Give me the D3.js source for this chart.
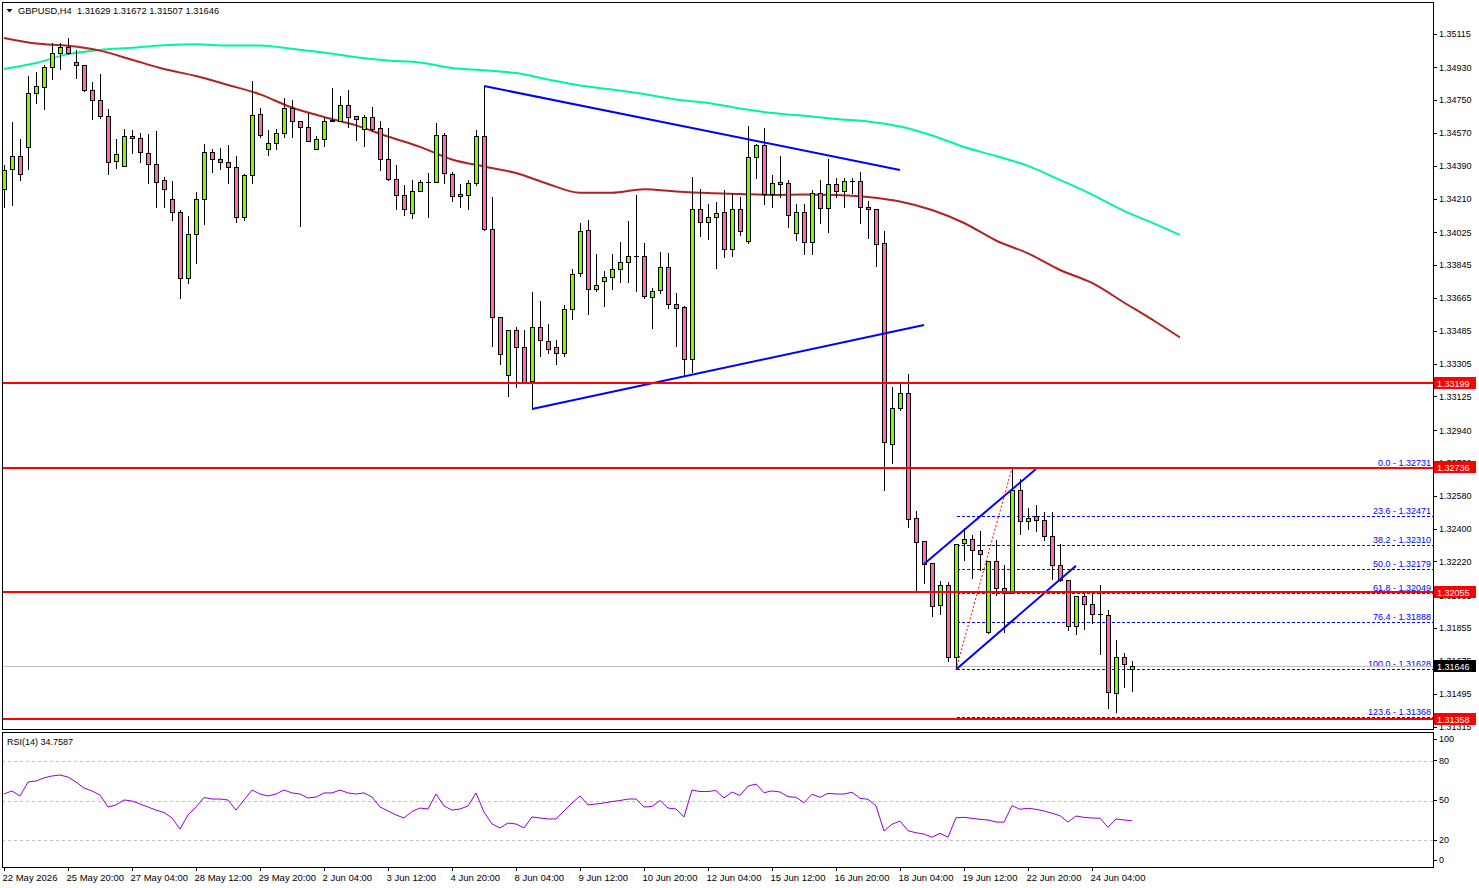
<!DOCTYPE html>
<html><head><meta charset="utf-8">
<script src="https://cdn.jsdelivr.net/npm/d3@7"></script>
<style>
html,body{margin:0;padding:0;background:#fff;}
svg{display:block;font-family:"Liberation Sans",Arial,sans-serif;}
</style></head>
<body>
<svg id="chart" width="1479" height="888"></svg>
<script>
/* GBPUSD H4 chart rebuilt with d3 */
const symbol = 'GBPUSD,H4';
const timeLabels = ['22 May 2026','25 May 20:00','27 May 04:00','28 May 12:00','29 May 20:00','2 Jun 04:00',
  '3 Jun 12:00','4 Jun 20:00','8 Jun 04:00','9 Jun 12:00','10 Jun 20:00','12 Jun 04:00','15 Jun 12:00',
  '16 Jun 20:00','18 Jun 04:00','19 Jun 12:00','22 Jun 20:00','24 Jun 04:00'];
const priceTicks = [1.35115,1.34930,1.34750,1.34570,1.34390,1.34210,1.34025,1.33845,1.33665,1.33485,1.33305,
  1.33125,1.32940,1.32760,1.32580,1.32400,1.32220,1.32035,1.31855,1.31675,1.31495,1.31315];

const opens = [1.34262,1.34372,1.34443,1.34493,1.34789,1.34822,1.34931,1.35008,1.35041,1.34959,
  1.34942,1.34805,1.34750,1.34663,1.34416,1.34389,1.34553,1.34542,1.34460,1.34400,
  1.34312,1.34208,1.34136,1.33774,1.34016,1.34208,1.34465,1.34427,1.34410,1.34383,
  1.34109,1.34339,1.34674,1.34482,1.34515,1.34569,1.34707,1.34635,1.34602,1.34482,
  1.34537,1.34635,1.34635,1.34723,1.34663,1.34591,1.34657,1.34597,1.34427,1.34317,
  1.34230,1.34131,1.34251,1.34301,1.34301,1.34559,1.34345,1.34235,1.34230,1.34295,
  1.34553,1.34043,1.33560,1.33242,1.33489,1.33396,1.33210,1.33506,1.33429,1.33396,
  1.33363,1.33604,1.33802,1.34038,1.33714,1.33758,1.33780,1.33824,1.33862,1.33895,
  1.33895,1.33670,1.33709,1.33835,1.33632,1.33615,1.33330,1.34153,1.34081,1.34109,
  1.34136,1.33933,1.34153,1.33977,1.34438,1.34504,1.34235,1.34301,1.34295,1.34021,
  1.34136,1.33972,1.34240,1.34158,1.34290,1.34251,1.34306,1.34306,1.34164,1.34153,
  1.33966,1.32864,1.33061,1.33144,1.32458,1.32332,1.32212,1.31981,1.32091,1.31696,
  1.32321,1.32343,1.32283,1.31833,1.32223,1.32074,1.32047,1.32612,1.32442,1.32469,
  1.32447,1.32360,1.32201,1.32118,1.31866,1.32031,1.31987,1.31932,1.31926,1.31499,
  1.31696,1.31629];
const highs = [1.34394,1.34630,1.34537,1.34882,1.34904,1.34942,1.35063,1.35063,1.35090,1.35025,
  1.34942,1.34849,1.34893,1.34701,1.34537,1.34591,1.34586,1.34569,1.34564,1.34580,
  1.34328,1.34306,1.34147,1.34114,1.34246,1.34509,1.34482,1.34487,1.34504,1.34443,
  1.34345,1.34855,1.34707,1.34586,1.34591,1.34761,1.34750,1.34635,1.34679,1.34553,
  1.34652,1.34816,1.34772,1.34805,1.34663,1.34668,1.34712,1.34635,1.34597,1.34394,
  1.34284,1.34312,1.34312,1.34350,1.34624,1.34569,1.34356,1.34290,1.34312,1.34586,
  1.34827,1.34219,1.33560,1.33489,1.33506,1.33489,1.33698,1.33648,1.33522,1.33434,
  1.33626,1.33824,1.34076,1.34092,1.33906,1.33813,1.33906,1.33972,1.34087,1.34230,
  1.33966,1.33719,1.33917,1.33911,1.33692,1.33621,1.34328,1.34262,1.34180,1.34191,
  1.34257,1.34240,1.34219,1.34608,1.34509,1.34597,1.34339,1.34443,1.34312,1.34180,
  1.34180,1.34257,1.34312,1.34427,1.34323,1.34323,1.34323,1.34356,1.34197,1.34153,
  1.34032,1.33177,1.33199,1.33248,1.32497,1.32332,1.32212,1.32113,1.32107,1.32316,
  1.32403,1.32365,1.32387,1.32223,1.32338,1.32201,1.32731,1.32672,1.32513,1.32530,
  1.32491,1.32491,1.32316,1.32118,1.32031,1.32047,1.32047,1.32091,1.31954,1.31789,
  1.31718,1.31672];
const lows = [1.34164,1.34175,1.34312,1.34372,1.34734,1.34701,1.34866,1.34920,1.35003,1.34871,
  1.34800,1.34646,1.34652,1.34345,1.34378,1.34389,1.34460,1.34410,1.34295,1.34164,
  1.34164,1.34092,1.33665,1.33747,1.33857,1.34071,1.34356,1.34372,1.34295,1.34081,
  1.34092,1.34295,1.34548,1.34449,1.34482,1.34548,1.34548,1.34060,1.34526,1.34482,
  1.34498,1.34635,1.34635,1.34602,1.34531,1.34498,1.34580,1.34367,1.34312,1.34153,
  1.34120,1.34103,1.34251,1.34109,1.34301,1.34295,1.34197,1.34164,1.34153,1.34284,
  1.34038,1.33401,1.33303,1.33127,1.33177,1.33204,1.33056,1.33347,1.33363,1.33303,
  1.33347,1.33549,1.33785,1.33577,1.33703,1.33621,1.33714,1.33752,1.33752,1.33703,
  1.33665,1.33500,1.33692,1.33610,1.33401,1.33237,1.33259,1.34005,1.33988,1.33829,
  1.33889,1.33895,1.34010,1.33966,1.34323,1.34180,1.34164,1.34219,1.34054,1.33983,
  1.33906,1.33906,1.34076,1.34027,1.34219,1.34164,1.34240,1.34076,1.33994,1.33840,
  1.32612,1.32760,1.33051,1.32409,1.32058,1.32102,1.31921,1.31932,1.31674,1.31628,
  1.32228,1.32129,1.32173,1.31828,1.32036,1.31833,1.32047,1.32371,1.32398,1.32387,
  1.32338,1.32124,1.32113,1.31844,1.31822,1.31850,1.31883,1.31713,1.31416,1.31395,
  1.31532,1.31507];
const closes = [1.34367,1.34443,1.34345,1.34789,1.34827,1.34931,1.35008,1.35041,1.35008,1.34942,
  1.34805,1.34750,1.34663,1.34410,1.34454,1.34553,1.34542,1.34465,1.34400,1.34301,
  1.34262,1.34136,1.33774,1.34016,1.34208,1.34465,1.34427,1.34410,1.34383,1.34109,
  1.34339,1.34668,1.34559,1.34515,1.34569,1.34707,1.34635,1.34602,1.34526,1.34537,
  1.34635,1.34641,1.34723,1.34657,1.34646,1.34657,1.34591,1.34427,1.34317,1.34230,
  1.34153,1.34251,1.34301,1.34301,1.34559,1.34350,1.34224,1.34224,1.34295,1.34553,
  1.34043,1.33560,1.33358,1.33489,1.33396,1.33204,1.33506,1.33434,1.33385,1.33363,
  1.33604,1.33796,1.34032,1.33714,1.33736,1.33780,1.33824,1.33862,1.33895,1.33895,
  1.33676,1.33703,1.33835,1.33632,1.33610,1.33330,1.34153,1.34081,1.34109,1.34131,
  1.33933,1.34153,1.34032,1.34438,1.34504,1.34235,1.34295,1.34290,1.34120,1.34136,
  1.33972,1.34240,1.34158,1.34290,1.34251,1.34306,1.34306,1.34164,1.34153,1.33961,
  1.32875,1.33061,1.33144,1.32453,1.32327,1.32206,1.31976,1.32091,1.31696,1.32316,
  1.32343,1.32283,1.32261,1.32223,1.32074,1.32047,1.32612,1.32442,1.32458,1.32447,
  1.32360,1.32201,1.32118,1.31866,1.32031,1.31987,1.31932,1.31932,1.31504,1.31696,
  1.31658,1.31646];

// moving averages (shifted forward, so they run past the last bar)
const maIdx = [0,4,8,12,16,20,24,28,32,36,40,44,48,52,56,60,64,68,72,76,80,84,88,92,96,100,
  104,108,112,116,120,124,128,132,136,140,144,147];
const maSlow = [1.34920,1.34953,1.35002,1.35025,1.35037,1.35051,1.35056,1.35049,1.35049,1.35031,
  1.35011,1.34985,1.34967,1.34956,1.34926,1.34913,1.34898,1.34863,1.34830,1.34808,1.34783,
  1.34753,1.34734,1.34704,1.34679,1.34664,1.34646,1.34633,1.34605,1.34556,1.34493,1.34443,
  1.34389,1.34312,1.34232,1.34142,1.34068,1.34010];
const maFast = [1.35090,1.35060,1.35048,1.35021,1.34971,1.34920,1.34882,1.34833,1.34781,1.34709,
  1.34657,1.34611,1.34550,1.34493,1.34424,1.34386,1.34350,1.34290,1.34242,1.34242,1.34261,
  1.34249,1.34240,1.34235,1.34230,1.34232,1.34230,1.34219,1.34194,1.34147,1.34076,1.33980,
  1.33909,1.33818,1.33747,1.33640,1.33533,1.33448];

const rsi = [54.9,57.2,53.4,63.9,64.7,67.0,68.5,69.2,67.7,63.9,
  59.4,57.2,54.1,45.1,46.6,50.4,49.6,47.4,45.1,42.8,
  41.0,36.8,28.5,39.1,45.1,52.3,51.1,51.1,50.4,42.8,
  50.4,57.9,54.9,53.4,54.9,57.9,55.7,54.9,51.9,52.6,
  55.7,55.7,57.9,55.7,54.9,55.7,52.6,45.1,42.1,39.1,
  36.8,41.7,44.3,43.6,54.9,45.9,42.8,43.6,45.9,55.7,
  41.3,32.3,29.3,33.0,32.3,29.3,37.6,36.8,36.1,36.1,
  42.1,48.1,53.4,46.6,47.4,48.1,49.2,50.0,51.1,51.1,
  45.1,45.5,50.0,44.3,43.6,37.6,57.9,56.8,56.8,57.5,
  51.9,56.4,53.8,60.9,62.4,55.9,57.2,56.4,52.9,52.4,
  48.3,54.7,52.4,55.4,54.9,54.9,56.2,51.7,50.9,45.9,
  27.0,32.1,34.5,27.2,25.7,24.7,22.3,25.3,22.3,37.0,
  37.3,36.6,35.8,35.3,33.8,33.6,46.1,43.4,44.1,43.4,
  42.1,40.4,38.5,33.8,38.3,37.3,36.8,36.6,29.8,36.1,
  35.3,34.7587];
const rsiLevels = [80,50,20];
const rsiTicks = [100,80,50,20,0];

const hLevels = [1.33199,1.32736,1.32055,1.31358];
const fibPct = ['0.0','23.6','38.2','50.0','61.8','76.4','100.0','123.6'];
const fibPrices = [1.32731,1.32471,1.32310,1.32179,1.32049,1.31888,1.31628,1.31368];
const fibStart = 119;
// trendlines: [bar, price] -> [bar, price]
const trendLines = [
  [[60,1.34827],[112,1.34367]],
  [[66,1.33056],[115,1.33517]],
  [[115,1.32206],[129,1.32727]],
  [[119,1.31628],[134,1.32197]]
];
const fibTrend = [[119,1.31628],[126,1.32731]];

/* ---------- layout ---------- */
const L = 2, R = 1433, mainT = 2, mainB = 729, rsiT = 732, rsiB = 867;
const svg = d3.select('#chart');
const x = d3.scaleLinear().domain([0,147]).range([4, 4+8*147]);
const y = d3.scaleLinear().domain([1.31315,1.35115]).range([726.5,33.5]);
const yr = d3.scaleLinear().domain([20,80]).range([840.3,760.7]);
const px = i => Math.round(x(i)) + 0.5;
const py = v => Math.round(y(v)) + 0.5;

const defs = svg.append('defs');
defs.append('clipPath').attr('id','clipMain').append('rect').attr('x',L).attr('y',mainT).attr('width',R-L).attr('height',mainB-mainT);
defs.append('clipPath').attr('id','clipRsi').append('rect').attr('x',L).attr('y',rsiT).attr('width',R-L).attr('height',rsiB-rsiT);

const gMain = svg.append('g').attr('clip-path','url(#clipMain)');

// fib levels (blue dashed)
const gFib = gMain.append('g');
gFib.selectAll('line').data(fibPrices).join('line')
  .attr('x1', px(fibStart)).attr('x2', R)
  .attr('y1', d=>py(d)).attr('y2', d=>py(d))
  .attr('stroke','#0000ff').attr('stroke-width',1).attr('stroke-dasharray','3,2')
  .attr('shape-rendering','crispEdges');
gFib.selectAll('text').data(fibPrices).join('text')
  .attr('x', R-2).attr('y', d=>Math.round(y(d))-2)
  .attr('text-anchor','end').attr('font-size','9px').attr('fill','#0000ff')
  .text((d,i)=>`${fibPct[i]} - ${d.toFixed(5)}`);

// current price line
const last = closes[closes.length-1];
gMain.append('line').attr('x1',L).attr('x2',R).attr('y1',py(last)).attr('y2',py(last))
  .attr('stroke','#c0c0c0').attr('shape-rendering','crispEdges');

// moving averages
const maLine = d3.line().x((d,i)=>x(maIdx[i])).y(d=>y(d)).curve(d3.curveMonotoneX);
gMain.append('path').datum(maSlow).attr('d',maLine).attr('fill','none').attr('stroke','#00f5a0').attr('stroke-width',2);
gMain.append('path').datum(maFast).attr('d',maLine).attr('fill','none').attr('stroke','#b22222').attr('stroke-width',2);

// candles
const candles = opens.map((o,i)=>({i, o, h:highs[i], l:lows[i], c:closes[i]}));
const gC = gMain.append('g').attr('shape-rendering','crispEdges');
const cg = gC.selectAll('g').data(candles).join('g');
cg.append('line')
  .attr('x1',d=>px(d.i)).attr('x2',d=>px(d.i))
  .attr('y1',d=>Math.round(y(d.h))).attr('y2',d=>Math.round(y(d.l))+1)
  .attr('stroke','#000');
const bodyTop = d => Math.round(y(Math.max(d.o,d.c)));
const bodyBot = d => Math.round(y(Math.min(d.o,d.c)));
cg.filter(d=>bodyBot(d)-bodyTop(d) >= 1).append('rect')
  .attr('x',d=>px(d.i)-2).attr('y',d=>bodyTop(d)+0.5)
  .attr('width',4).attr('height',d=>bodyBot(d)-bodyTop(d))
  .attr('fill',d=>d.c>=d.o ? '#7cfc00' : '#ff69b4')
  .attr('stroke','#000');
cg.filter(d=>bodyBot(d)-bodyTop(d) < 1).append('line')
  .attr('x1',d=>px(d.i)-2.5).attr('x2',d=>px(d.i)+2.5)
  .attr('y1',d=>bodyTop(d)+0.5).attr('y2',d=>bodyTop(d)+0.5)
  .attr('stroke','#000');

// trendlines
const tl = d3.line().x(d=>x(d[0])).y(d=>y(d[1]));
gMain.append('g').selectAll('path').data(trendLines).join('path')
  .attr('d',tl).attr('fill','none').attr('stroke','#0000ff').attr('stroke-width',2);
gMain.append('path').datum(fibTrend).attr('d',tl).attr('fill','none')
  .attr('stroke','#ff0000').attr('stroke-width',1).attr('stroke-dasharray','2,2');

// horizontal red levels (2px, sitting on the rows the terminal uses)
gMain.append('g').selectAll('line').data(hLevels).join('line')
  .attr('x1',L).attr('x2',R).attr('y1',d=>Math.ceil(y(d))).attr('y2',d=>Math.ceil(y(d)))
  .attr('stroke','#ff0000').attr('stroke-width',2).attr('shape-rendering','crispEdges');

// title
svg.append('path').attr('d','M6.5,9 L12.5,9 L9.5,12.5 Z').attr('fill','#000');
svg.append('text').attr('x',18).attr('y',14).attr('font-size','9.3px').attr('fill','#000')
  .style('white-space','pre')
  .text(`${symbol}  ${opens[141].toFixed(5)} ${highs[141].toFixed(5)} ${lows[141].toFixed(5)} ${closes[141].toFixed(5)}`);

/* ---------- RSI panel ---------- */
const gRsi = svg.append('g').attr('clip-path','url(#clipRsi)');
gRsi.selectAll('line').data(rsiLevels).join('line')
  .attr('x1',L).attr('x2',R).attr('y1',d=>Math.round(yr(d))+0.5).attr('y2',d=>Math.round(yr(d))+0.5)
  .attr('stroke','#c0c0c0').attr('stroke-dasharray','3,3').attr('shape-rendering','crispEdges');
gRsi.append('path').datum(rsi)
  .attr('d', d3.line().x((d,i)=>x(i)).y(d=>yr(d)))
  .attr('fill','none').attr('stroke','#9400d3').attr('stroke-width',1);
svg.append('text').attr('x',7).attr('y',745).attr('font-size','9px').attr('fill','#000')
  .text(`RSI(14) ${rsi[rsi.length-1].toFixed(4)}`);

/* ---------- axes ---------- */
const pAxis = svg.append('g').attr('transform',`translate(${R},0)`)
  .call(d3.axisRight(y).tickValues(priceTicks).tickSize(4).tickPadding(2).tickFormat(d=>d.toFixed(5)));
pAxis.select('.domain').remove();
pAxis.selectAll('text').attr('font-size','9px').attr('font-family','"Liberation Sans",Arial,sans-serif');
pAxis.selectAll('.tick').filter(d=>y(d) > mainB).remove();
pAxis.attr('shape-rendering','crispEdges');

const rAxis = svg.append('g').attr('transform',`translate(${R},0)`)
  .call(d3.axisRight(yr).tickValues(rsiTicks).tickSize(4).tickPadding(2));
rAxis.select('.domain').remove();
rAxis.selectAll('.tick').attr('transform', d=>`translate(0,${Math.max(rsiT+7, Math.min(rsiB-7, yr(d)))})`);
rAxis.selectAll('text').attr('font-size','9px').attr('font-family','"Liberation Sans",Arial,sans-serif');
rAxis.attr('shape-rendering','crispEdges');

const tAxis = svg.append('g').attr('transform',`translate(0,${rsiB})`)
  .call(d3.axisBottom(x).tickValues(timeLabels.map((d,i)=>i*8)).tickSize(4).tickPadding(3)
    .tickFormat((d,i)=>timeLabels[i]));
tAxis.select('.domain').remove();
tAxis.selectAll('text').attr('text-anchor','start').attr('x',-2)
  .attr('font-size','9.5px').attr('font-family','"Liberation Sans",Arial,sans-serif');
tAxis.attr('shape-rendering','crispEdges');

// price boxes on the axis
const boxes = hLevels.map(v=>({v, fill:'#ff0000'})).concat([{v:last, fill:'#000'}]);
const gBox = svg.append('g').selectAll('g').data(boxes).join('g')
  .attr('transform', d=>`translate(${R+1},${Math.round(y(d.v))})`);
gBox.append('rect').attr('x',0).attr('y',-6).attr('width',42).attr('height',12).attr('fill',d=>d.fill);
gBox.append('text').attr('x',3).attr('y',3.5).attr('font-size','9px').attr('fill','#fff')
  .text(d=>d.v.toFixed(5));

/* ---------- frames ---------- */
const gF = svg.append('g').attr('stroke','#000').attr('shape-rendering','crispEdges').attr('fill','none');
gF.append('rect').attr('x',L+0.5).attr('y',mainT+0.5).attr('width',R-L).attr('height',mainB-mainT);
gF.append('rect').attr('x',L+0.5).attr('y',rsiT+0.5).attr('width',R-L).attr('height',rsiB-rsiT);
</script>
</body></html>
